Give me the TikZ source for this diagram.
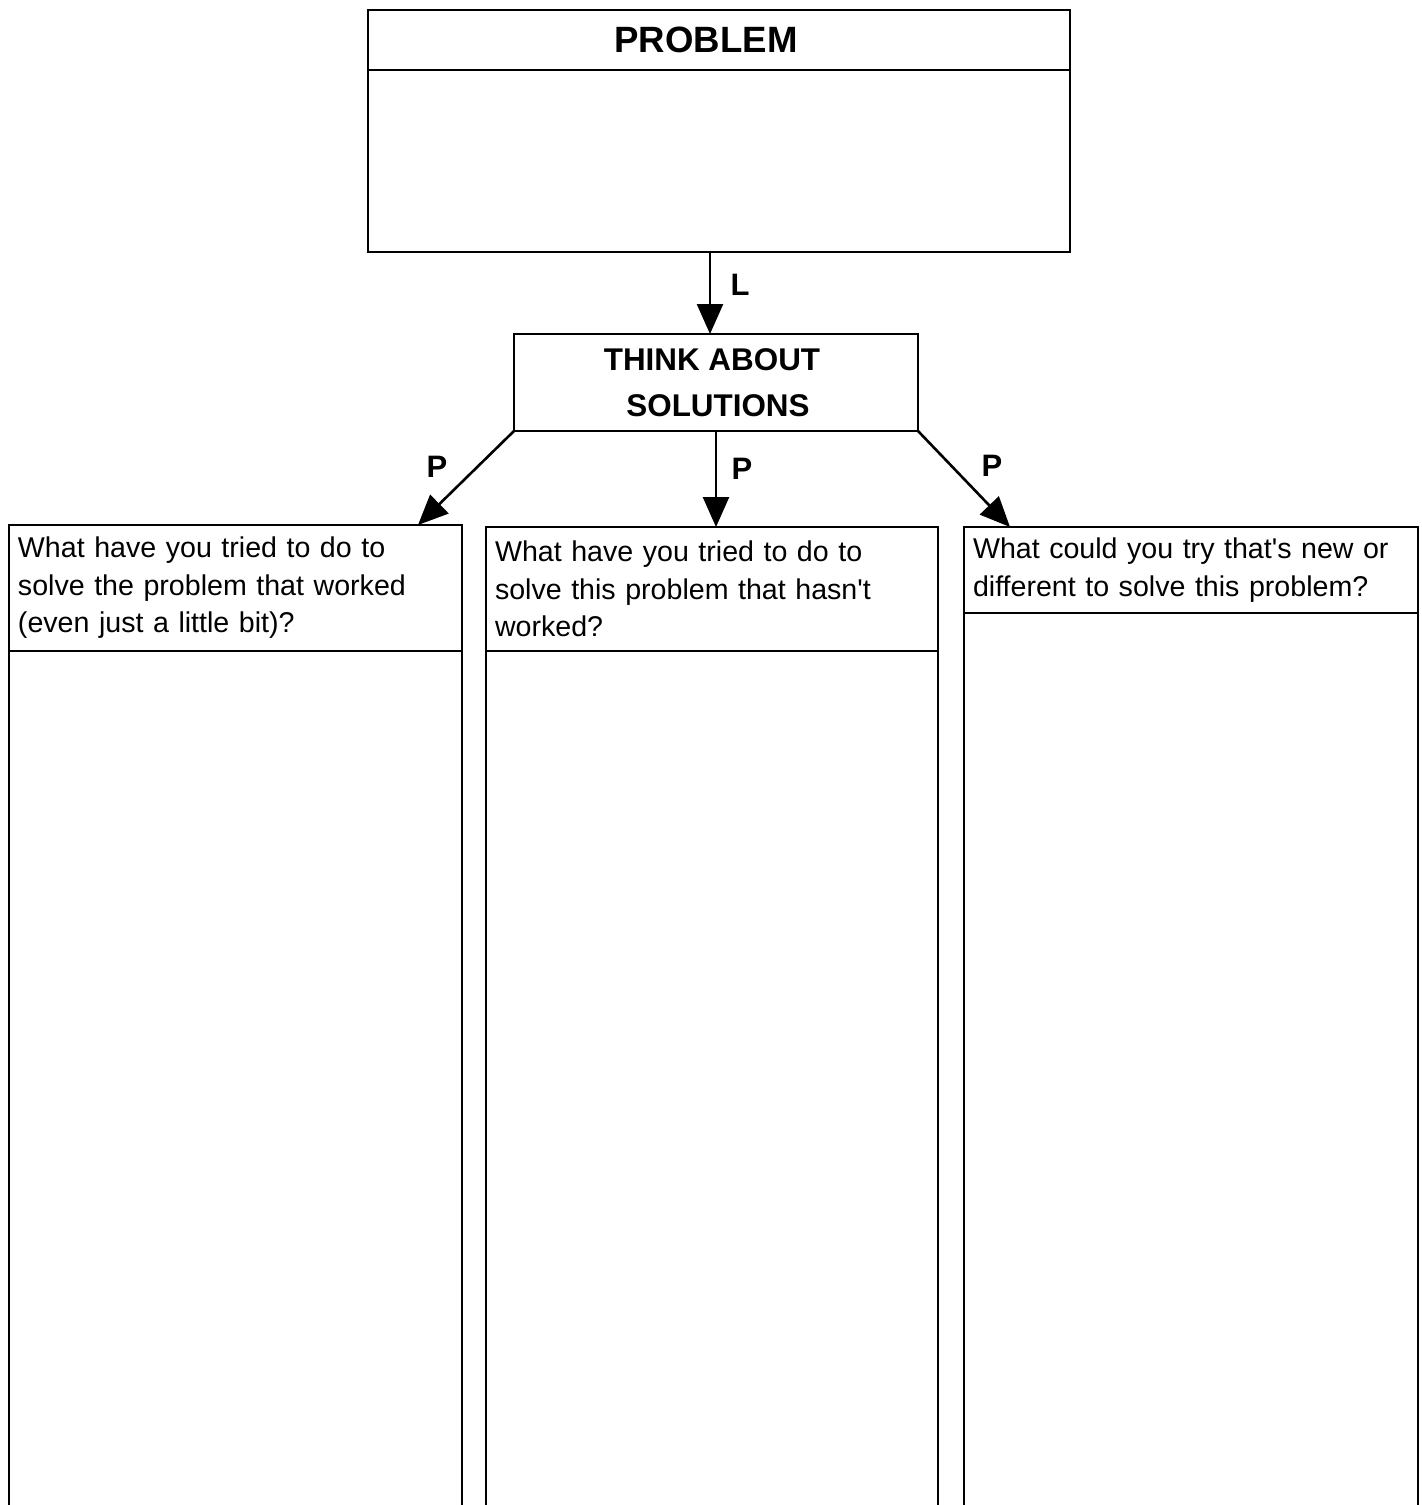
\documentclass[tikz,border=0pt]{standalone}
\usepackage{fontspec}
\setmainfont{Liberation Sans}
\usetikzlibrary{arrows.meta,calc}
\begin{document}
\begin{tikzpicture}[x=0.5pt,y=-0.5pt,
  box/.style={draw,line width=1.3pt,rectangle,inner sep=0pt,outer sep=0pt},
  arr/.style={line width=1.3pt,-{Triangle[length=15pt,width=13pt]}},
  lbl/.style={font=\fontsize{15.5}{18}\selectfont\bfseries,inner sep=0pt},
  qbox/.style={box,anchor=north west,align=left,inner xsep=4.5pt,
    font=\fontsize{14.3}{18.75}\selectfont},
  colline/.style={line width=1.3pt}
]
\useasboundingbox (0,0) rectangle (1421,1505);

% PROBLEM box
\node[box,minimum width=351pt,minimum height=30pt,
  font=\fontsize{18.3}{22}\selectfont\bfseries] (probhead) at (719,40) {\hspace*{-13pt}PROBLEM};
\node[box,minimum width=351pt,minimum height=91pt,anchor=north] (probbody) at (probhead.south) {};

% THINK ABOUT SOLUTIONS
\node[box,minimum width=202pt,minimum height=48.5pt,align=center,
  font=\fontsize{15.7}{23}\selectfont\bfseries] (think) at (716,382.5)
  {\hspace*{-4pt}THINK ABOUT\\\hspace*{2pt}SOLUTIONS};

% column headers
\node[qbox,minimum width=226.5pt,minimum height=63pt,text width=217.5pt] (colL) at (9,525)
  {What have you tried to do to\\solve the problem that worked\\(even just a little bit)?};
\node[qbox,minimum width=226pt,minimum height=62pt,text width=217pt] (colM) at (486,527)
  {What have you tried to do to\\solve this problem that hasn\textquotesingle t\\worked?};
\node[qbox,minimum width=227pt,minimum height=43pt,text width=218pt] (colR) at (964,527)
  {What could you try that\textquotesingle s new or\\different to solve this problem?};

% column bodies (open at the bottom, cut by the page)
\draw[colline] (colL.south west) -- ++(0,1000);
\draw[colline] (colL.south east) -- ++(0,1000);
\draw[colline] (colM.south west) -- ++(0,1000);
\draw[colline] (colM.south east) -- ++(0,1000);
\draw[colline] (colR.south west) -- ++(0,1000);
\draw[colline] (colR.south east) -- ++(0,1000);

% arrows
\draw[arr] ([xshift=-4.5pt]probbody.south) -- ([xshift=-3pt]think.north);
\draw[arr] (think.south west) -- ([xshift=-22pt]colL.north east);
\draw[arr] (think.south) -- (think.south |- colM.north);
\draw[arr] (think.south east) -- ([xshift=23pt]colR.north west);

% labels
\node[lbl] (lL) at (740,285) {L};
\node[lbl] (lP1) at (437,467) {P};
\node[lbl] (lP2) at (742,469) {P};
\node[lbl] (lP3) at (992,466) {P};
\end{tikzpicture}
\end{document}
